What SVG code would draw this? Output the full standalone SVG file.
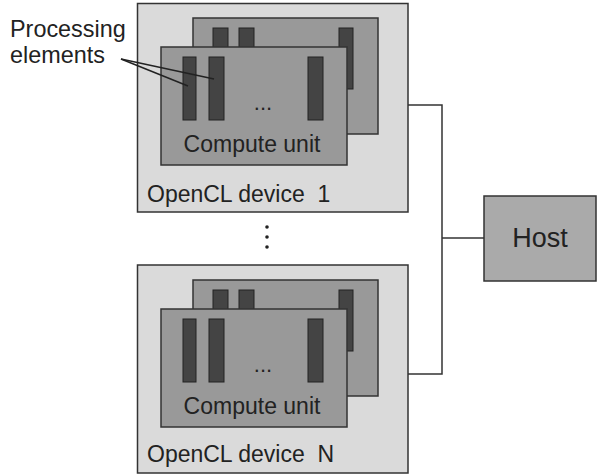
<svg xmlns="http://www.w3.org/2000/svg" width="597" height="475" viewBox="0 0 597 475">
<style>
.dev{fill:#dadada;stroke:#333;stroke-width:1.5}
.cu{fill:#999;stroke:#333;stroke-width:1.5}
.pe{fill:#444;stroke:#222;stroke-width:1}
.host{fill:#aaa;stroke:#333;stroke-width:1.5}
.t{font-family:"Liberation Sans",Arial,sans-serif;fill:#222}
.line{stroke:#333;stroke-width:1.5;fill:none}
</style>
<rect width="597" height="475" fill="#fff"/>
<defs>
<g id="unit">
<rect class="cu" x="193" y="18" width="185" height="116"/>
<rect class="pe" x="213" y="28" width="15" height="62"/>
<rect class="pe" x="239" y="28" width="15" height="62"/>
<rect class="pe" x="339" y="28" width="14" height="61"/>
<rect class="cu" x="161" y="47" width="186" height="118"/>
<rect class="pe" x="183" y="57" width="13" height="63"/>
<rect class="pe" x="209" y="57" width="15" height="63"/>
<rect class="pe" x="308" y="57" width="15" height="63"/>
<text class="t" x="263" y="110" font-size="22" text-anchor="middle">...</text>
<text class="t" x="252" y="152" font-size="23" text-anchor="middle">Compute unit</text>
</g>
</defs>
<g id="device1">
<rect class="dev" x="137.5" y="3.5" width="270.5" height="208.5"/>
<use href="#unit"/>
<text class="t" x="147" y="202" font-size="23" style="white-space:pre">OpenCL device  1</text>
</g>
<g id="ellipsis" fill="#222">
<circle cx="267" cy="227" r="1.8"/>
<circle cx="267" cy="237" r="1.8"/>
<circle cx="267" cy="247" r="1.8"/>
</g>
<g id="deviceN">
<rect class="dev" x="137.5" y="265" width="270.5" height="208"/>
<use href="#unit" transform="translate(0,262)"/>
<text class="t" x="147" y="462" font-size="23" style="white-space:pre">OpenCL device  N</text>
</g>
<g id="host">
<rect class="host" x="484" y="196" width="112" height="85"/>
<text class="t" x="540" y="247" font-size="27" text-anchor="middle">Host</text>
</g>
<g id="pe-label">
<text class="t" x="10" y="37" font-size="23.4">Processing</text>
<text class="t" x="10" y="63" font-size="23.4">elements</text>
</g>
<g id="connectors">
<polyline class="line" points="408,105 442,105 442,374 408,374"/>
<line class="line" x1="442" y1="238" x2="484" y2="238"/>
<line x1="121" y1="59" x2="188" y2="86" stroke="#222" stroke-width="1.5"/>
<line x1="121" y1="59" x2="214" y2="79" stroke="#222" stroke-width="1.5"/>
</g>
</svg>
